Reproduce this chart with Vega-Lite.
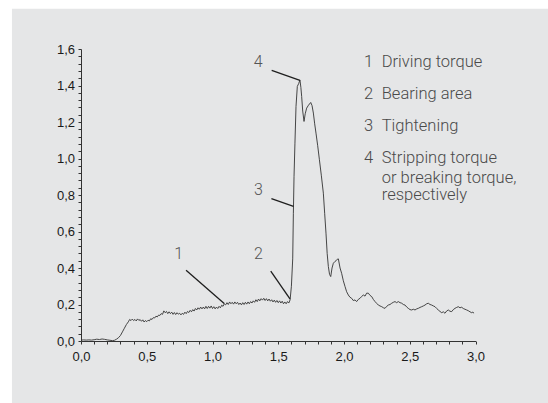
{
  "$schema": "https://vega.github.io/schema/vega-lite/v6.json",
  "width": 394.5,
  "height": 292,
  "autosize": {"type": "none"},
  "padding": {"left": 81, "top": 49, "right": 72.5, "bottom": 62},
  "background": "white",
  "config": {
    "view": {"stroke": null},
    "axis": {"grid": false, "title": null, "domainColor": "#333333", "domainWidth": 1, "tickColor": "#333333", "tickWidth": 1, "labelFont": "Liberation Sans", "labelFontSize": 13, "labelColor": "#1a1a1a"}
  },
  "datasets": {
    "curve": [
      {"x": 0.00, "y": 0.005}, {"x": 0.02, "y": 0.006}, {"x": 0.04, "y": 0.005}, {"x": 0.06, "y": 0.006}, {"x": 0.08, "y": 0.005},
      {"x": 0.10, "y": 0.007}, {"x": 0.12, "y": 0.010}, {"x": 0.14, "y": 0.008}, {"x": 0.16, "y": 0.011}, {"x": 0.18, "y": 0.009},
      {"x": 0.20, "y": 0.006}, {"x": 0.22, "y": 0.004}, {"x": 0.24, "y": 0.002}, {"x": 0.255, "y": 0.004}, {"x": 0.27, "y": 0.010},
      {"x": 0.285, "y": 0.018}, {"x": 0.30, "y": 0.030}, {"x": 0.315, "y": 0.050}, {"x": 0.33, "y": 0.070}, {"x": 0.345, "y": 0.090},
      {"x": 0.36, "y": 0.105}, {"x": 0.37, "y": 0.118}, {"x": 0.38, "y": 0.112}, {"x": 0.39, "y": 0.120}, {"x": 0.40, "y": 0.112},
      {"x": 0.41, "y": 0.118}, {"x": 0.42, "y": 0.110}, {"x": 0.43, "y": 0.121}, {"x": 0.44, "y": 0.113}, {"x": 0.45, "y": 0.117},
      {"x": 0.46, "y": 0.108}, {"x": 0.47, "y": 0.116}, {"x": 0.48, "y": 0.104}, {"x": 0.49, "y": 0.112}, {"x": 0.50, "y": 0.106},
      {"x": 0.51, "y": 0.114}, {"x": 0.52, "y": 0.110}, {"x": 0.53, "y": 0.122}, {"x": 0.54, "y": 0.118}, {"x": 0.55, "y": 0.128},
      {"x": 0.56, "y": 0.126}, {"x": 0.57, "y": 0.136}, {"x": 0.58, "y": 0.132}, {"x": 0.59, "y": 0.142}, {"x": 0.60, "y": 0.140},
      {"x": 0.61, "y": 0.150}, {"x": 0.62, "y": 0.146}, {"x": 0.63, "y": 0.165}, {"x": 0.64, "y": 0.155}, {"x": 0.65, "y": 0.162},
      {"x": 0.66, "y": 0.150}, {"x": 0.67, "y": 0.160}, {"x": 0.68, "y": 0.150}, {"x": 0.69, "y": 0.158}, {"x": 0.70, "y": 0.146},
      {"x": 0.71, "y": 0.156}, {"x": 0.72, "y": 0.145}, {"x": 0.73, "y": 0.155}, {"x": 0.74, "y": 0.147}, {"x": 0.75, "y": 0.152},
      {"x": 0.76, "y": 0.143}, {"x": 0.77, "y": 0.152}, {"x": 0.78, "y": 0.146}, {"x": 0.79, "y": 0.158}, {"x": 0.80, "y": 0.150},
      {"x": 0.81, "y": 0.162}, {"x": 0.82, "y": 0.156}, {"x": 0.83, "y": 0.168}, {"x": 0.84, "y": 0.160}, {"x": 0.85, "y": 0.172},
      {"x": 0.86, "y": 0.164}, {"x": 0.87, "y": 0.178}, {"x": 0.88, "y": 0.170}, {"x": 0.89, "y": 0.182}, {"x": 0.90, "y": 0.174},
      {"x": 0.91, "y": 0.186}, {"x": 0.92, "y": 0.176}, {"x": 0.93, "y": 0.186}, {"x": 0.94, "y": 0.176}, {"x": 0.95, "y": 0.190},
      {"x": 0.96, "y": 0.178}, {"x": 0.97, "y": 0.190}, {"x": 0.98, "y": 0.180}, {"x": 0.99, "y": 0.192}, {"x": 1.00, "y": 0.178},
      {"x": 1.01, "y": 0.188}, {"x": 1.02, "y": 0.176}, {"x": 1.03, "y": 0.186}, {"x": 1.04, "y": 0.178}, {"x": 1.05, "y": 0.190},
      {"x": 1.06, "y": 0.182}, {"x": 1.07, "y": 0.196}, {"x": 1.08, "y": 0.190}, {"x": 1.09, "y": 0.204}, {"x": 1.10, "y": 0.198},
      {"x": 1.11, "y": 0.210}, {"x": 1.12, "y": 0.200}, {"x": 1.13, "y": 0.214}, {"x": 1.14, "y": 0.204}, {"x": 1.15, "y": 0.212},
      {"x": 1.16, "y": 0.202}, {"x": 1.17, "y": 0.214}, {"x": 1.18, "y": 0.204}, {"x": 1.19, "y": 0.212}, {"x": 1.20, "y": 0.200},
      {"x": 1.21, "y": 0.208}, {"x": 1.22, "y": 0.198}, {"x": 1.23, "y": 0.210}, {"x": 1.24, "y": 0.200}, {"x": 1.25, "y": 0.212},
      {"x": 1.26, "y": 0.202}, {"x": 1.27, "y": 0.214}, {"x": 1.28, "y": 0.204}, {"x": 1.29, "y": 0.216}, {"x": 1.30, "y": 0.208},
      {"x": 1.31, "y": 0.220}, {"x": 1.32, "y": 0.212}, {"x": 1.33, "y": 0.226}, {"x": 1.34, "y": 0.216}, {"x": 1.35, "y": 0.230},
      {"x": 1.36, "y": 0.220}, {"x": 1.37, "y": 0.232}, {"x": 1.38, "y": 0.224}, {"x": 1.39, "y": 0.234}, {"x": 1.40, "y": 0.222},
      {"x": 1.41, "y": 0.232}, {"x": 1.42, "y": 0.220}, {"x": 1.43, "y": 0.230}, {"x": 1.44, "y": 0.218}, {"x": 1.45, "y": 0.226},
      {"x": 1.46, "y": 0.214}, {"x": 1.47, "y": 0.224}, {"x": 1.48, "y": 0.212}, {"x": 1.49, "y": 0.222}, {"x": 1.50, "y": 0.210},
      {"x": 1.51, "y": 0.220}, {"x": 1.52, "y": 0.208}, {"x": 1.53, "y": 0.218}, {"x": 1.54, "y": 0.204}, {"x": 1.55, "y": 0.214},
      {"x": 1.56, "y": 0.204}, {"x": 1.57, "y": 0.216}, {"x": 1.58, "y": 0.208}, {"x": 1.59, "y": 0.225}, {"x": 1.60, "y": 0.300},
      {"x": 1.61, "y": 0.450}, {"x": 1.615, "y": 0.700}, {"x": 1.62, "y": 0.900}, {"x": 1.627, "y": 1.084}, {"x": 1.635, "y": 1.285},
      {"x": 1.645, "y": 1.395}, {"x": 1.655, "y": 1.410}, {"x": 1.665, "y": 1.430}, {"x": 1.672, "y": 1.390}, {"x": 1.678, "y": 1.340},
      {"x": 1.686, "y": 1.260}, {"x": 1.696, "y": 1.203}, {"x": 1.705, "y": 1.245}, {"x": 1.716, "y": 1.276}, {"x": 1.730, "y": 1.292},
      {"x": 1.747, "y": 1.307}, {"x": 1.757, "y": 1.290}, {"x": 1.767, "y": 1.249}, {"x": 1.777, "y": 1.190}, {"x": 1.787, "y": 1.139},
      {"x": 1.800, "y": 1.070}, {"x": 1.813, "y": 0.993}, {"x": 1.828, "y": 0.905}, {"x": 1.843, "y": 0.810}, {"x": 1.853, "y": 0.700},
      {"x": 1.863, "y": 0.591}, {"x": 1.872, "y": 0.480}, {"x": 1.881, "y": 0.408}, {"x": 1.890, "y": 0.365}, {"x": 1.899, "y": 0.353},
      {"x": 1.909, "y": 0.400}, {"x": 1.919, "y": 0.426}, {"x": 1.930, "y": 0.435}, {"x": 1.940, "y": 0.440}, {"x": 1.949, "y": 0.448},
      {"x": 1.957, "y": 0.450}, {"x": 1.970, "y": 0.400}, {"x": 1.982, "y": 0.371}, {"x": 1.995, "y": 0.330}, {"x": 2.008, "y": 0.298},
      {"x": 2.020, "y": 0.270}, {"x": 2.033, "y": 0.252}, {"x": 2.045, "y": 0.240}, {"x": 2.058, "y": 0.234}, {"x": 2.070, "y": 0.222},
      {"x": 2.084, "y": 0.225}, {"x": 2.096, "y": 0.216}, {"x": 2.109, "y": 0.228}, {"x": 2.122, "y": 0.234}, {"x": 2.134, "y": 0.244},
      {"x": 2.147, "y": 0.252}, {"x": 2.160, "y": 0.246}, {"x": 2.172, "y": 0.262}, {"x": 2.185, "y": 0.262}, {"x": 2.198, "y": 0.250},
      {"x": 2.211, "y": 0.243}, {"x": 2.223, "y": 0.228}, {"x": 2.236, "y": 0.216}, {"x": 2.249, "y": 0.206}, {"x": 2.261, "y": 0.197},
      {"x": 2.274, "y": 0.192}, {"x": 2.287, "y": 0.188}, {"x": 2.300, "y": 0.182}, {"x": 2.312, "y": 0.179}, {"x": 2.325, "y": 0.190},
      {"x": 2.337, "y": 0.197}, {"x": 2.350, "y": 0.200}, {"x": 2.363, "y": 0.207}, {"x": 2.375, "y": 0.212}, {"x": 2.388, "y": 0.216},
      {"x": 2.400, "y": 0.210}, {"x": 2.413, "y": 0.216}, {"x": 2.426, "y": 0.210}, {"x": 2.439, "y": 0.207}, {"x": 2.451, "y": 0.200},
      {"x": 2.464, "y": 0.197}, {"x": 2.477, "y": 0.186}, {"x": 2.489, "y": 0.179}, {"x": 2.502, "y": 0.172}, {"x": 2.515, "y": 0.170},
      {"x": 2.527, "y": 0.174}, {"x": 2.540, "y": 0.170}, {"x": 2.553, "y": 0.176}, {"x": 2.565, "y": 0.179}, {"x": 2.578, "y": 0.184},
      {"x": 2.591, "y": 0.188}, {"x": 2.603, "y": 0.192}, {"x": 2.616, "y": 0.197}, {"x": 2.629, "y": 0.204}, {"x": 2.641, "y": 0.207},
      {"x": 2.654, "y": 0.200}, {"x": 2.667, "y": 0.197}, {"x": 2.680, "y": 0.192}, {"x": 2.692, "y": 0.188}, {"x": 2.705, "y": 0.178},
      {"x": 2.717, "y": 0.170}, {"x": 2.730, "y": 0.162}, {"x": 2.743, "y": 0.155}, {"x": 2.755, "y": 0.160}, {"x": 2.768, "y": 0.152},
      {"x": 2.780, "y": 0.164}, {"x": 2.793, "y": 0.170}, {"x": 2.806, "y": 0.163}, {"x": 2.819, "y": 0.161}, {"x": 2.831, "y": 0.172},
      {"x": 2.844, "y": 0.179}, {"x": 2.857, "y": 0.184}, {"x": 2.869, "y": 0.188}, {"x": 2.882, "y": 0.182}, {"x": 2.895, "y": 0.185},
      {"x": 2.907, "y": 0.178}, {"x": 2.920, "y": 0.174}, {"x": 2.933, "y": 0.170}, {"x": 2.945, "y": 0.166}, {"x": 2.958, "y": 0.160},
      {"x": 2.971, "y": 0.155}, {"x": 2.980, "y": 0.158}, {"x": 2.989, "y": 0.152}
    ],
    "leaders": [
      {"x": 0.799, "y": 0.388, "x2": 1.089, "y2": 0.206},
      {"x": 1.443, "y": 0.383, "x2": 1.589, "y2": 0.231},
      {"x": 1.448, "y": 0.780, "x2": 1.616, "y2": 0.738},
      {"x": 1.450, "y": 1.483, "x2": 1.665, "y2": 1.428}
    ],
    "nums": [
      {"x": 0.743, "y": 0.479, "label": "1"},
      {"x": 1.349, "y": 0.479, "label": "2"},
      {"x": 1.349, "y": 0.829, "label": "3"},
      {"x": 1.348, "y": 1.527, "label": "4"}
    ],
    "legend": [
      {"x": 2.152, "y": 1.501, "label": "1"},
      {"x": 2.287, "y": 1.501, "label": "Driving torque"},
      {"x": 2.152, "y": 1.326, "label": "2"},
      {"x": 2.287, "y": 1.326, "label": "Bearing area"},
      {"x": 2.152, "y": 1.148, "label": "3"},
      {"x": 2.287, "y": 1.148, "label": "Tightening"},
      {"x": 2.152, "y": 0.975, "label": "4"},
      {"x": 2.287, "y": 0.975, "label": "Stripping torque"},
      {"x": 2.287, "y": 0.868, "label": "or breaking torque,"},
      {"x": 2.287, "y": 0.770, "label": "respectively"}
    ]
  },
  "layer": [
    {
      "data": {"values": [{}]},
      "mark": {"type": "rect", "color": "#e5e6e7"},
      "encoding": {
        "x": {"datum": -0.525, "type": "quantitative", "scale": {"domain": [0, 3], "nice": false, "zero": false},
          "axis": {"zindex": 1, "tickCount": 200, "values": [0,0.1,0.2,0.3,0.4,0.5,0.6,0.7,0.8,0.9,1,1.1,1.2,1.3,1.4,1.5,1.6,1.7,1.8,1.9,2,2.1,2.2,2.3,2.4,2.5,2.6,2.7,2.8,2.9,3],
            "labelExpr": "abs(datum.value*2-round(datum.value*2))<0.001 ? replace(format(datum.value,'.1f'),'.',',') : ''",
            "labelOverlap": false, "labelBound": false, "labelFlush": false,
            "tickSize": 3, "labelPadding": 6.5}},
        "x2": {"datum": 3.56},
        "y": {"datum": -0.35, "type": "quantitative", "scale": {"domain": [0, 1.6], "nice": false, "zero": false},
          "axis": {"zindex": 1, "tickCount": 200, "values": [0,0.04,0.08,0.12,0.16,0.2,0.24,0.28,0.32,0.36,0.4,0.44,0.48,0.52,0.56,0.6,0.64,0.68,0.72,0.76,0.8,0.84,0.88,0.92,0.96,1,1.04,1.08,1.12,1.16,1.2,1.24,1.28,1.32,1.36,1.4,1.44,1.48,1.52,1.56,1.6],
            "labelExpr": "abs(datum.value*5-round(datum.value*5))<0.001 ? replace(format(datum.value,'.1f'),'.',',') : ''",
            "labelOverlap": false, "labelBound": false, "labelFlush": false,
            "tickSize": 3, "labelPadding": 3.5}},
        "y2": {"datum": 1.82}
      }
    },
    {
      "data": {"name": "curve"},
      "mark": {"type": "line", "color": "#333333", "strokeWidth": 0.9},
      "encoding": {
        "x": {"field": "x", "type": "quantitative"},
        "y": {"field": "y", "type": "quantitative"}
      }
    },
    {
      "data": {"name": "leaders"},
      "mark": {"type": "rule", "color": "#1e1e1e", "strokeWidth": 1.3},
      "encoding": {
        "x": {"field": "x", "type": "quantitative"},
        "y": {"field": "y", "type": "quantitative"},
        "x2": {"field": "x2"},
        "y2": {"field": "y2"}
      }
    },
    {
      "data": {"name": "nums"},
      "mark": {"type": "text", "font": "Roboto", "fontWeight": 300, "fontSize": 16, "color": "#555555", "align": "center", "baseline": "middle"},
      "encoding": {
        "x": {"field": "x", "type": "quantitative"},
        "y": {"field": "y", "type": "quantitative"},
        "text": {"field": "label"}
      }
    },
    {
      "data": {"name": "legend"},
      "mark": {"type": "text", "font": "Roboto", "fontWeight": 300, "fontSize": 16.5, "color": "#4a4a4a", "align": "left", "baseline": "alphabetic"},
      "encoding": {
        "x": {"field": "x", "type": "quantitative"},
        "y": {"field": "y", "type": "quantitative"},
        "text": {"field": "label"}
      }
    }
  ]
}
